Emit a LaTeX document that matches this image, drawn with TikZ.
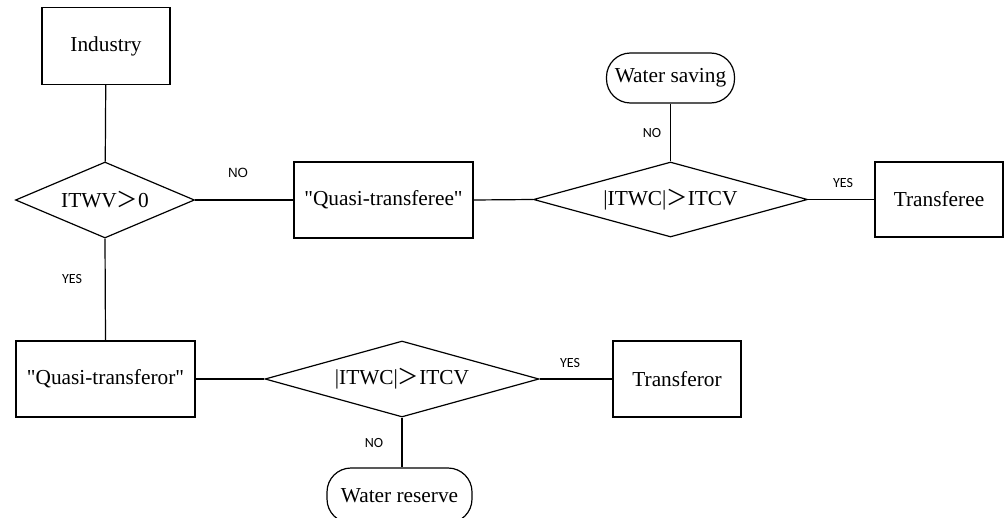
\documentclass[tikz,border=0pt]{standalone}
\usepackage{fontspec}
\setmainfont{Liberation Serif}
\newfontfamily\lblfont{Carlito}
\newfontfamily\cjk{Noto Sans CJK SC}
\usetikzlibrary{shapes.geometric}

\newcommand{\gtsign}{{\cjk ＞}}

\tikzset{
  box/.style={draw,inner sep=0pt,font=\fontsize{16}{18}\selectfont},
  cond/.style={draw,diamond,inner sep=0pt,font=\fontsize{16}{18}\selectfont},
  term/.style={draw,rounded corners=18pt,inner sep=0pt,font=\fontsize{16}{18}\selectfont},
  lbl/.style={inner sep=0pt,font=\lblfont\fontsize{10.5}{12}\selectfont}
}

\begin{document}
\begin{tikzpicture}[x=0.75pt,y=-0.75pt,line width=0.9pt]
\useasboundingbox (0,0) rectangle (1005,517);

\node[box,minimum width=96pt,minimum height=57.75pt] (ind) at (106,46) {Industry};
\node[cond,aspect=2.36,minimum width=134.25pt,minimum height=57pt] (d1) at (105,200) {ITWV\gtsign0};
\node[box,minimum width=134.25pt,minimum height=57pt] (qee) at (383.5,200) {\textquotedbl Quasi-transferee\textquotedbl};
\node[cond,aspect=3.65,minimum width=205.5pt,minimum height=56.25pt] (d2) at (670.5,199.5) {|ITWC|\gtsign ITCV};
\node[term,minimum width=96pt,minimum height=37.5pt] (save) at (670.5,78) {Water saving};
\node[box,minimum width=96pt,minimum height=56.25pt] (tee) at (939,199.5) {Transferee};

\node[box,minimum width=134.25pt,minimum height=57pt] (qor) at (105.5,379) {\textquotedbl Quasi-transferor\textquotedbl};
\node[cond,aspect=3.6,minimum width=205.5pt,minimum height=57pt] (d3) at (402,379) {|ITWC|\gtsign ITCV};
\node[box,minimum width=96pt,minimum height=57pt] (tor) at (677,379) {Transferor};
\node[term,minimum width=108.75pt,minimum height=41.25pt] (res) at (399.5,495.5) {Water reserve};

\draw (ind) -- (d1);
\draw (d1.east) -- (qee.west);
\draw (qee.east) -- (d2.west);
\draw (d2.north) -- (save.south);
\draw (d2.east) -- (tee.west);
\draw (d1.south) -- (qor.north);
\draw (qor.east) -- (d3.west);
\draw (d3.east) -- (tor.west);
\draw (d3.south) -- (d3.south |- res.north);

\node[lbl,font=\fontspec{Liberation Sans}\fontsize{10}{12}\selectfont] (no1) at (238,173) {NO};
\node[lbl] (no2) at (652,133) {NO};
\node[lbl] (yes2) at (843,183) {YES};
\node[lbl] (yes1) at (72,279) {YES};
\node[lbl] (yes3) at (570,363) {YES};
\node[lbl] (no3) at (374,443) {NO};
\end{tikzpicture}
\end{document}
